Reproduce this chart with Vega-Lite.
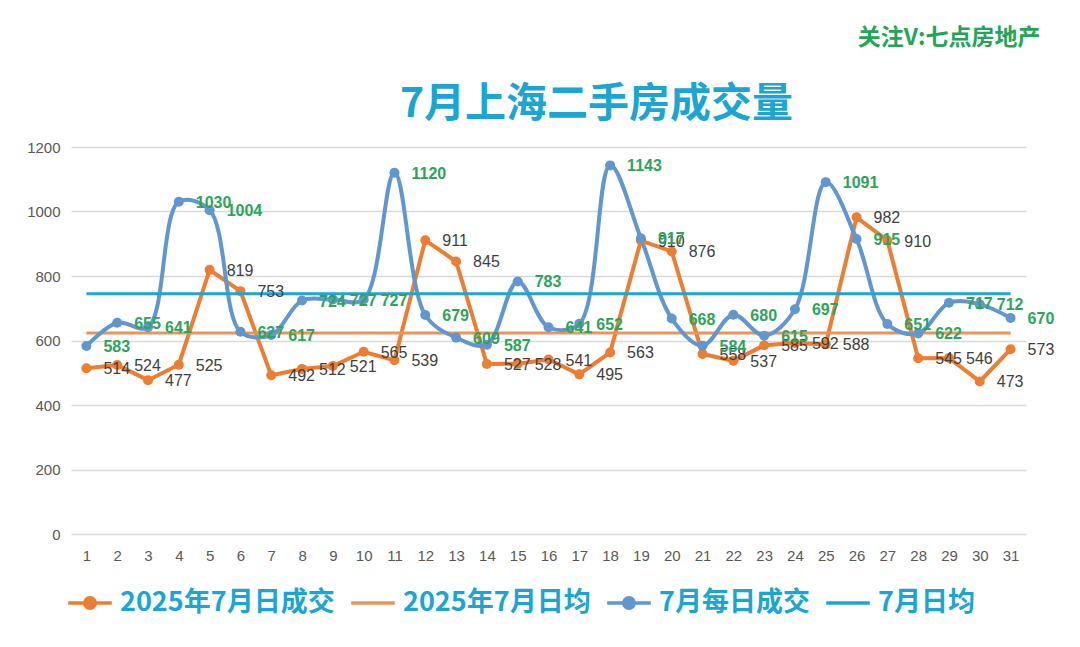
{
  "$schema": "https://vega.github.io/schema/vega-lite/v6.json",
  "autosize": {"type": "none"},
  "width": 955,
  "height": 387,
  "padding": {"left": 71, "top": 147, "right": 54, "bottom": 113},
  "background": "white",
  "datasets": {
    "daily": [
      {"日": 1, "系列": "2025年7月日成交", "值": 514}, {"日": 2, "系列": "2025年7月日成交", "值": 524},
      {"日": 3, "系列": "2025年7月日成交", "值": 477}, {"日": 4, "系列": "2025年7月日成交", "值": 525},
      {"日": 5, "系列": "2025年7月日成交", "值": 819}, {"日": 6, "系列": "2025年7月日成交", "值": 753},
      {"日": 7, "系列": "2025年7月日成交", "值": 492}, {"日": 8, "系列": "2025年7月日成交", "值": 512},
      {"日": 9, "系列": "2025年7月日成交", "值": 521}, {"日": 10, "系列": "2025年7月日成交", "值": 565},
      {"日": 11, "系列": "2025年7月日成交", "值": 539}, {"日": 12, "系列": "2025年7月日成交", "值": 911},
      {"日": 13, "系列": "2025年7月日成交", "值": 845}, {"日": 14, "系列": "2025年7月日成交", "值": 527},
      {"日": 15, "系列": "2025年7月日成交", "值": 528}, {"日": 16, "系列": "2025年7月日成交", "值": 541},
      {"日": 17, "系列": "2025年7月日成交", "值": 495}, {"日": 18, "系列": "2025年7月日成交", "值": 563},
      {"日": 19, "系列": "2025年7月日成交", "值": 910}, {"日": 20, "系列": "2025年7月日成交", "值": 876},
      {"日": 21, "系列": "2025年7月日成交", "值": 558}, {"日": 22, "系列": "2025年7月日成交", "值": 537},
      {"日": 23, "系列": "2025年7月日成交", "值": 585}, {"日": 24, "系列": "2025年7月日成交", "值": 592},
      {"日": 25, "系列": "2025年7月日成交", "值": 588}, {"日": 26, "系列": "2025年7月日成交", "值": 982},
      {"日": 27, "系列": "2025年7月日成交", "值": 910}, {"日": 28, "系列": "2025年7月日成交", "值": 545},
      {"日": 29, "系列": "2025年7月日成交", "值": 546}, {"日": 30, "系列": "2025年7月日成交", "值": 473},
      {"日": 31, "系列": "2025年7月日成交", "值": 573},
      {"日": 1, "系列": "7月每日成交", "值": 583}, {"日": 2, "系列": "7月每日成交", "值": 655},
      {"日": 3, "系列": "7月每日成交", "值": 641}, {"日": 4, "系列": "7月每日成交", "值": 1030},
      {"日": 5, "系列": "7月每日成交", "值": 1004}, {"日": 6, "系列": "7月每日成交", "值": 627},
      {"日": 7, "系列": "7月每日成交", "值": 617}, {"日": 8, "系列": "7月每日成交", "值": 724},
      {"日": 9, "系列": "7月每日成交", "值": 727}, {"日": 10, "系列": "7月每日成交", "值": 727},
      {"日": 11, "系列": "7月每日成交", "值": 1120}, {"日": 12, "系列": "7月每日成交", "值": 679},
      {"日": 13, "系列": "7月每日成交", "值": 609}, {"日": 14, "系列": "7月每日成交", "值": 587},
      {"日": 15, "系列": "7月每日成交", "值": 783}, {"日": 16, "系列": "7月每日成交", "值": 641},
      {"日": 17, "系列": "7月每日成交", "值": 652}, {"日": 18, "系列": "7月每日成交", "值": 1143},
      {"日": 19, "系列": "7月每日成交", "值": 917}, {"日": 20, "系列": "7月每日成交", "值": 668},
      {"日": 21, "系列": "7月每日成交", "值": 584}, {"日": 22, "系列": "7月每日成交", "值": 680},
      {"日": 23, "系列": "7月每日成交", "值": 615}, {"日": 24, "系列": "7月每日成交", "值": 697},
      {"日": 25, "系列": "7月每日成交", "值": 1091}, {"日": 26, "系列": "7月每日成交", "值": 915},
      {"日": 27, "系列": "7月每日成交", "值": 651}, {"日": 28, "系列": "7月每日成交", "值": 622},
      {"日": 29, "系列": "7月每日成交", "值": 717}, {"日": 30, "系列": "7月每日成交", "值": 712},
      {"日": 31, "系列": "7月每日成交", "值": 670},
      {"日": 1, "系列": "2025年7月日均", "值": 623}, {"日": 31, "系列": "2025年7月日均", "值": 623},
      {"日": 1, "系列": "7月日均", "值": 745}, {"日": 31, "系列": "7月日均", "值": 745}
    ]
  },
  "data": {"name": "daily"},
  "encoding": {
    "x": {
      "field": "日", "type": "ordinal",
      "scale": {"type": "point", "padding": 0.5},
      "axis": {
        "labelAngle": 0, "ticks": false, "domain": false,
        "labelFont": "Liberation Sans", "labelFontSize": 15, "labelColor": "#595959",
        "labelPadding": 14,
        "title": "7月上海二手房成交量",
        "titleX": 525, "titleY": -430,
        "titleAlign": "center", "titleBaseline": "middle",
        "titleFont": "Noto Sans CJK SC", "titleFontSize": 41, "titleFontWeight": "bold",
        "titleColor": "#1BA5D3"
      }
    },
    "y": {
      "field": "值", "type": "quantitative",
      "scale": {"domain": [0, 1200]},
      "axis": {
        "values": [0, 200, 400, 600, 800, 1000, 1200],
        "format": "d",
        "ticks": false, "domain": false,
        "gridColor": "#D9D9D9", "gridWidth": 1.5,
        "labelFont": "Liberation Sans", "labelFontSize": 15, "labelColor": "#595959",
        "labelPadding": 11,
        "title": "关注V:七点房地产",
        "titleAngle": 0, "titleX": 969, "titleY": -110,
        "titleAlign": "right", "titleBaseline": "middle",
        "titleFont": "Noto Sans CJK SC", "titleFontSize": 23, "titleFontWeight": "bold",
        "titleColor": "#22A557"
      }
    },
    "color": {
      "field": "系列", "type": "nominal",
      "scale": {
        "domain": ["2025年7月日成交", "2025年7月日均", "7月每日成交", "7月日均"],
        "range": ["#ED7D31", "#E8945A", "#6197D0", "#19A6D8"]
      },
      "legend": {
        "orient": "none", "legendX": -5, "legendY": 432,
        "direction": "horizontal", "title": null,
        "labelFont": "Noto Sans CJK SC", "labelFontSize": 27, "labelFontWeight": "bold",
        "labelColor": "#1BA5D3", "labelLimit": 400,
        "symbolSize": 1900, "symbolStrokeWidth": 3.5, "symbolType": "M-1,0H1",
        "columnPadding": 9, "labelOffset": 6,
        "encode": {
          "symbols": {
            "update": {
              "shape": {"signal": "indexof(['2025年7月日成交','7月每日成交'], datum.value) >= 0 ? 'M-1,0H1M0.24,0A0.24,0.24 0 1,1 -0.24,0A0.24,0.24 0 1,1 0.24,0Z' : 'M-1,0H1'"},
              "fill": {"signal": "indexof(['2025年7月日成交','7月每日成交'], datum.value) >= 0 ? scale('color', datum.value) : 'transparent'"},
              "stroke": {"signal": "scale('color', datum.value)"},
              "opacity": {"value": 1}
            }
          }
        }
      }
    }
  },
  "layer": [
    {
      "transform": [{"filter": "datum['系列'] == '2025年7月日成交'"}],
      "mark": {"type": "line", "strokeWidth": 4}
    },
    {
      "transform": [{"filter": "datum['系列'] == '2025年7月日均'"}],
      "mark": {"type": "line", "strokeWidth": 3}
    },
    {
      "transform": [{"filter": "datum['系列'] == '7月每日成交'"}],
      "mark": {"type": "line", "strokeWidth": 4, "interpolate": "catmull-rom"}
    },
    {
      "transform": [{"filter": "datum['系列'] == '2025年7月日成交' || datum['系列'] == '7月每日成交'"}],
      "mark": {"type": "point", "filled": true, "size": 100, "opacity": 1}
    },
    {
      "transform": [{"filter": "datum['系列'] == '7月日均'"}],
      "mark": {"type": "line", "strokeWidth": 3}
    },
    {
      "transform": [{"filter": "datum['系列'] == '2025年7月日成交'"}],
      "mark": {"type": "text", "align": "left", "baseline": "middle", "dx": 17, "dy": 1,
               "font": "Liberation Sans", "fontSize": 16, "color": "#404040"},
      "encoding": {"text": {"field": "值", "type": "quantitative"}, "color": {"value": "#404040"}}
    },
    {
      "transform": [{"filter": "datum['系列'] == '7月每日成交'"}],
      "mark": {"type": "text", "align": "left", "baseline": "middle", "dx": 17, "dy": 1,
               "font": "Liberation Sans", "fontSize": 16, "fontWeight": "bold"},
      "encoding": {"text": {"field": "值", "type": "quantitative"}, "color": {"value": "#2AA55B"}}
    }
  ],
  "config": {"view": {"stroke": null}}
}
